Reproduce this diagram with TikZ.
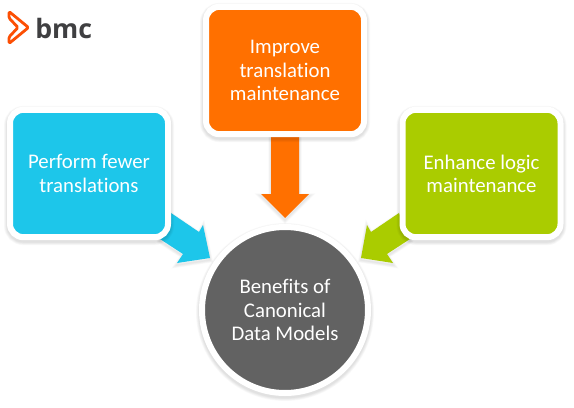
\documentclass[tikz,border=0pt]{standalone}
\usepackage{fontspec}
\setmainfont{Carlito}[Ligatures=NoCommon]
\newfontfamily\logofont{Open Sans}
\definecolor{cblue}{HTML}{1DC6EA}
\definecolor{corange}{HTML}{FF7000}
\definecolor{cgreen}{HTML}{AACC00}
\definecolor{cgrey}{HTML}{626262}
\definecolor{clogo}{HTML}{FC4F04}
\definecolor{clogotext}{HTML}{3F3F41}
\tikzset{
  x=0.75pt,y=-0.75pt,
  glowring/.style={preaction={draw=black,draw opacity=.025,line width=#1,transform canvas={yshift=-1.5pt}}},
  softshadow/.style={glowring=9pt,glowring=8pt,glowring=7pt,glowring=6pt,glowring=5pt},
  arrowshadow/.style={glowring=4pt,glowring=3pt,glowring=2pt,glowring=1pt},
  cardbox/.style={softshadow,draw=white,line width=4.5pt,rounded corners=10pt,minimum width=118.5pt,minimum height=95.5pt,align=center,text=white,font=\fontsize{15.6}{17.4}\selectfont},
  hubnode/.style={softshadow,circle,draw=white,line width=4.5pt,fill=cgrey,minimum size=124.5pt,align=center,text=white,font=\fontsize{15.6}{17.4}\selectfont,inner sep=0pt}
}
\begin{document}
\begin{tikzpicture}
\useasboundingbox (0,0) rectangle (574,407);
\fill[white] (0,0) rectangle (574,407);
% arrows beneath the cards
\fill[cblue,arrowshadow] (171,213) -- (199,232) -- (203,225) -- (210,258) -- (177,263) -- (183,254) -- (160,239) -- cycle;
\fill[corange,arrowshadow] (271,130) -- (299,130) -- (299,194) -- (309,194) -- (285,218) -- (261,194) -- (271,194) -- cycle;
\fill[cgreen,arrowshadow] (399,213) -- (371,232) -- (367,225) -- (361,258) -- (393,263) -- (387,254) -- (410,239) -- cycle;
% cards
\node[cardbox,fill=cblue] (fewer) at (89,173.5) {Perform fewer\\translations};
\node[cardbox,fill=corange] (improve) at (285,70.5) {Improve\\translation\\maintenance};
\node[cardbox,fill=cgreen] (enhance) at (481.5,173.5) {Enhance logic\\maintenance};
\node[hubnode] (hub) at (285,310) {Benefits of\\Canonical\\Data Models};
% logo
\draw[clogo,line width=2.1pt,line join=round,line cap=round,rounded corners=1pt] (9,11.5) -- (28.5,27.5) -- (9,43.5) -- (9,37) -- (18,27.5) -- (9,18) -- cycle;
\node[anchor=west,inner sep=0pt,text=clogotext,font=\logofont\bfseries\fontsize{20}{20}\selectfont] (logo) at (35,28) {bmc};
\end{tikzpicture}
\end{document}
